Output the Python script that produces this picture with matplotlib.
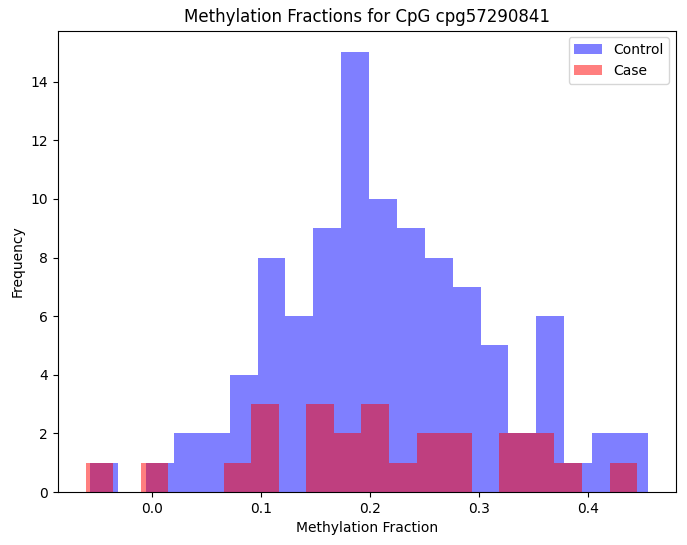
import numpy as np
import matplotlib
matplotlib.use("Agg")
import matplotlib.pyplot as plt

# Histogram counts (20 bins each)
control_range = (-0.0565, 0.4550)
control_counts = [1, 0, 1, 2, 2, 4, 8, 6, 9, 15, 10, 9, 8, 7, 5, 2, 6, 1, 2, 2]

case_range = (-0.0608, 0.4452)
case_counts = [1, 0, 1, 0, 0, 1, 3, 0, 3, 2, 3, 1, 2, 2, 0, 2, 2, 1, 0, 1]

title = "Methylation Fractions for CpG cpg57290841"
xlabel = "Methylation Fraction"
ylabel = "Frequency"

fig = plt.figure(figsize=(6.87, 5.45), dpi=100)
ax = fig.add_axes([57.5 / 687, 53 / 545, 618.5 / 687, 461.5 / 545])

for rng, counts, color, label in [
    (control_range, control_counts, "blue", "Control"),
    (case_range, case_counts, "red", "Case"),
]:
    edges = np.linspace(rng[0], rng[1], len(counts) + 1)
    centers = (edges[:-1] + edges[1:]) / 2
    ax.hist(centers, bins=edges, weights=counts, alpha=0.5, color=color, label=label)

ax.set_title(title)
ax.set_xlabel(xlabel)
ax.set_ylabel(ylabel)
ax.legend(loc="upper right")

fig.savefig("out.png", dpi=100)
